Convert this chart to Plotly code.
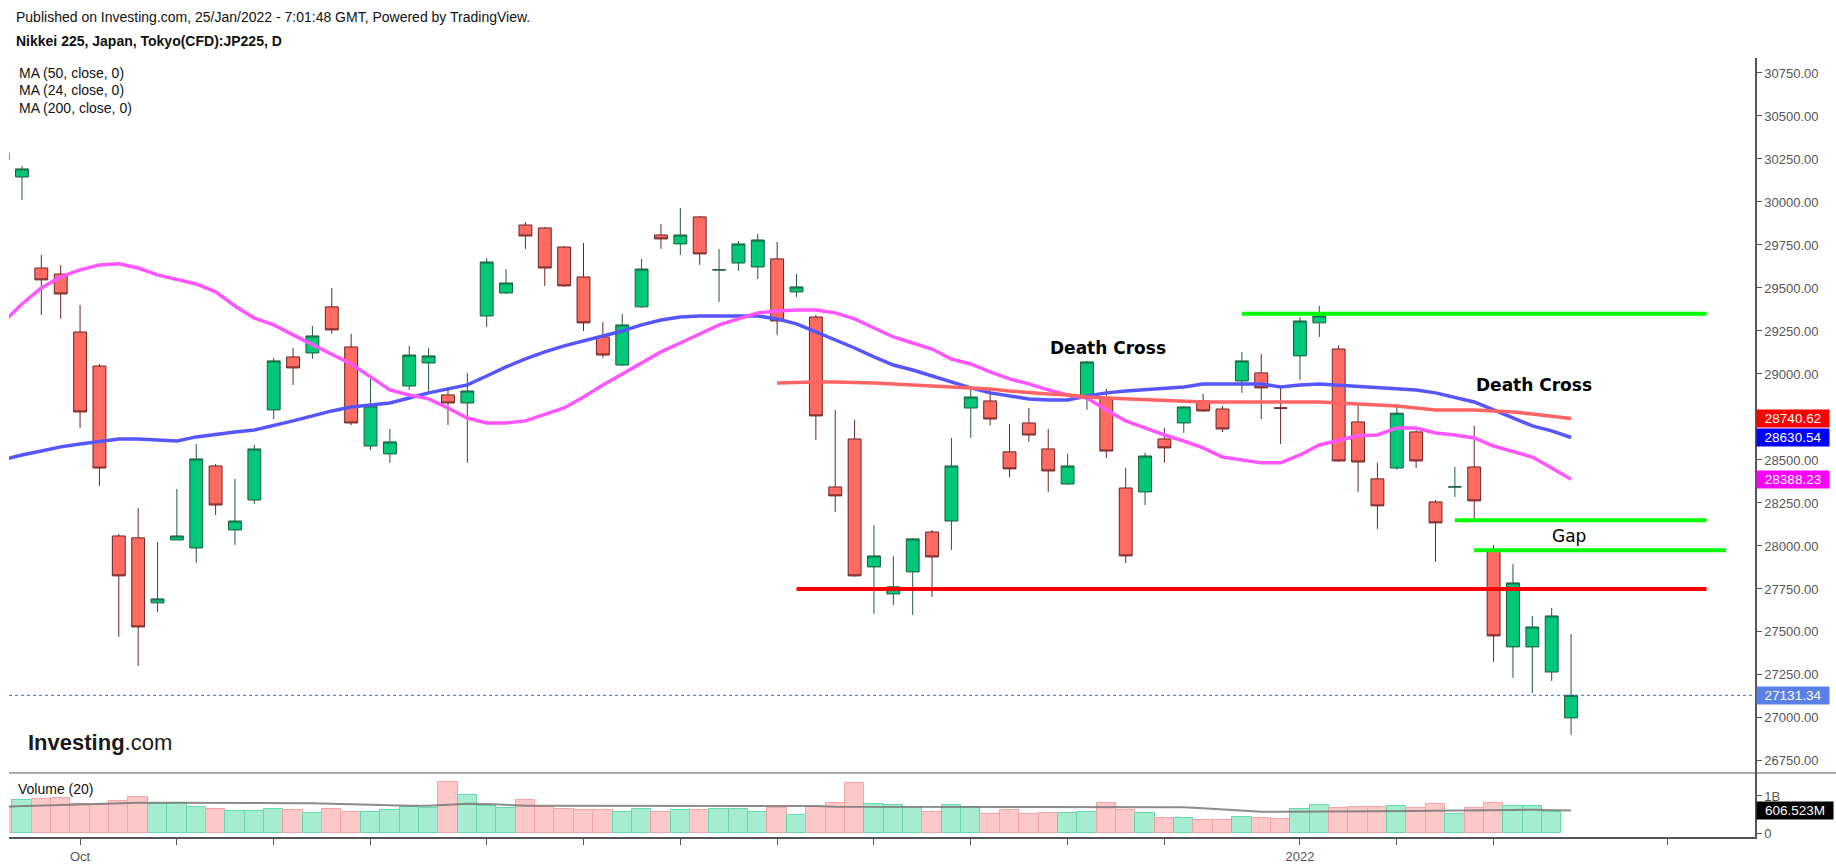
import plotly.graph_objects as go
from plotly.subplots import make_subplots

# daily bars (JP225 CFD), Sep 27 2021 .. Jan 25 2022
dates = ["2021-09-27", "2021-09-28", "2021-09-29", "2021-09-30", "2021-10-01",
         "2021-10-04", "2021-10-05", "2021-10-06", "2021-10-07", "2021-10-08",
         "2021-10-11", "2021-10-12", "2021-10-13", "2021-10-14", "2021-10-15",
         "2021-10-18", "2021-10-19", "2021-10-20", "2021-10-21", "2021-10-22",
         "2021-10-25", "2021-10-26", "2021-10-27", "2021-10-28", "2021-10-29",
         "2021-11-01", "2021-11-02", "2021-11-04", "2021-11-05", "2021-11-08",
         "2021-11-09", "2021-11-10", "2021-11-11", "2021-11-12", "2021-11-15",
         "2021-11-16", "2021-11-17", "2021-11-18", "2021-11-19", "2021-11-22",
         "2021-11-24", "2021-11-25", "2021-11-26", "2021-11-29", "2021-11-30",
         "2021-12-01", "2021-12-02", "2021-12-03", "2021-12-06", "2021-12-07",
         "2021-12-08", "2021-12-09", "2021-12-10", "2021-12-13", "2021-12-14",
         "2021-12-15", "2021-12-16", "2021-12-17", "2021-12-20", "2021-12-21",
         "2021-12-22", "2021-12-23", "2021-12-24", "2021-12-27", "2021-12-28",
         "2021-12-29", "2021-12-30", "2022-01-04", "2022-01-05", "2022-01-06",
         "2022-01-07", "2022-01-11", "2022-01-12", "2022-01-13", "2022-01-14",
         "2022-01-17", "2022-01-18", "2022-01-19", "2022-01-20", "2022-01-21",
         "2022-01-24", "2022-01-25"]
# empty trading days to the right of the last bar
future_days = ["2022-01-26", "2022-01-27", "2022-01-28", "2022-01-31", "2022-02-01",
               "2022-02-02", "2022-02-03", "2022-02-04", "2022-02-07", "2022-02-08",
               "2022-02-09"]

open_ = [30285, 30145, 29616, 29581, 29244, 29046, 28058, 28047, 27669, 28035,
         27988, 28465, 28093, 28267, 28791, 29099, 29122, 29390, 29157, 28581,
         28535, 28930, 29064, 28878, 28831, 29337, 29471, 29866, 29849, 29738,
         29564, 29215, 29052, 29390, 29808, 29756, 29913, 29604, 29645, 29622,
         29669, 29477, 29331, 28343, 28622, 27878, 27721, 27849, 28081, 28145,
         28802, 28843, 28547, 28715, 28564, 28360, 28866, 28860, 28337, 28314,
         28622, 28715, 28843, 28796, 28959, 29006, 28803, 29105, 29297, 29145,
         28721, 28390, 28453, 28663, 28256, 28342, 28459, 27971, 27413, 27413,
         27267, 27000]
high = [30300, 30209, 29692, 29634, 29401, 29058, 28070, 28221, 28023, 28331,
        28593, 28477, 28390, 28587, 29093, 29151, 29279, 29500, 29233, 28994,
        28680, 29163, 29151, 28907, 29006, 29674, 29610, 29884, 29855, 29744,
        29762, 29302, 29349, 29669, 29872, 29965, 29919, 29727, 29773, 29814,
        29767, 29581, 29343, 28791, 28733, 28122, 27942, 28047, 28093, 28628,
        28919, 28919, 28709, 28802, 28680, 28535, 29076, 28913, 28453, 28541,
        28686, 28814, 28884, 28814, 29128, 29116, 28919, 29331, 29395, 29168,
        28826, 28483, 28826, 28674, 28267, 28459, 28698, 28006, 27895, 27593,
        27640, 27488]
low = [30230, 30012, 29343, 29320, 28686, 28349, 27471, 27302, 27616, 28035,
       27901, 28180, 28006, 28244, 28738, 28936, 29087, 29233, 28703, 28558,
       28483, 28907, 28884, 28703, 28483, 29273, 29465, 29727, 29512, 29505,
       29250, 29093, 29046, 29385, 29727, 29692, 29634, 29419, 29599, 29552,
       29227, 29448, 28616, 28198, 27820, 27605, 27657, 27599, 27704, 27977,
       28628, 28700, 28401, 28605, 28314, 28355, 28791, 28512, 27901, 28238,
       28483, 28657, 28780, 28663, 28890, 28738, 28593, 28965, 29215, 28490,
       28314, 28099, 28442, 28453, 27907, 28285, 28140, 27326, 27233, 27145,
       27215, 26901]
close = [30244, 30192, 29547, 29465, 28779, 28453, 27826, 27529, 27692, 28058,
         28506, 28238, 28145, 28564, 29076, 29035, 29221, 29256, 28715, 28814,
         28605, 29110, 29105, 28831, 28901, 29651, 29529, 29802, 29616, 29512,
         29297, 29110, 29285, 29610, 29785, 29808, 29698, 29606, 29756, 29779,
         29308, 29506, 28756, 28291, 27826, 27942, 27762, 28041, 27936, 28465,
         28866, 28738, 28448, 28645, 28436, 28465, 29070, 28552, 27942, 28523,
         28570, 28808, 28785, 28680, 29076, 28919, 28801, 29308, 29337, 28494,
         28488, 28233, 28772, 28494, 28134, 28344, 28262, 27477, 27785, 27529,
         27593, 27131.34]

ma50 = [28500, 28529, 28552, 28576, 28593, 28610, 28622, 28622, 28616, 28610,
        28634, 28651, 28663, 28674, 28698, 28727, 28756, 28785, 28808, 28820,
        28831, 28860, 28890, 28913, 28936, 28988, 29041, 29087, 29128, 29163,
        29192, 29221, 29250, 29285, 29314, 29331, 29337, 29337, 29337, 29337,
        29320, 29291, 29244, 29198, 29151, 29099, 29052, 29023, 28988, 28953,
        28919, 28890, 28872, 28855, 28849, 28849, 28872, 28890, 28901, 28907,
        28913, 28924, 28942, 28942, 28942, 28942, 28924, 28936, 28942, 28936,
        28930, 28919, 28913, 28907, 28890, 28866, 28837, 28791, 28744, 28698,
        28669, 28630.54]
ma24 = [29297, 29407, 29500, 29564, 29605, 29634, 29640, 29616, 29576, 29552,
        29523, 29477, 29395, 29325, 29285, 29227, 29169, 29116, 29058, 28983,
        28907, 28878, 28855, 28802, 28744, 28715, 28715, 28727, 28762, 28802,
        28866, 28936, 29000, 29064, 29128, 29180, 29233, 29285, 29320, 29355,
        29366, 29372, 29372, 29355, 29320, 29267, 29215, 29180, 29145, 29087,
        29058, 29012, 28971, 28942, 28907, 28878, 28860, 28791, 28727, 28686,
        28645, 28610, 28570, 28517, 28500, 28483, 28483, 28529, 28587, 28616,
        28640, 28645, 28686, 28686, 28657, 28645, 28628, 28581, 28547, 28517,
        28453, 28388.23]
ma200_start = "2021-11-24"
ma200 = [28948, 28953, 28953, 28953, 28953, 28948, 28942, 28936, 28930, 28924,
         28919, 28913, 28901, 28890, 28884, 28878, 28866, 28860, 28855, 28849,
         28843, 28837, 28837, 28837, 28837, 28837, 28837, 28837, 28837, 28831,
         28826, 28820, 28814, 28802, 28791, 28791, 28791, 28785, 28779, 28767,
         28756, 28740.62]

# volume in millions (last bar has none yet) and its 20-day average
volume_m = [712, 892, 910, 946, 784, 757, 856, 982, 784, 820,
            712, 640, 604, 604, 640, 613, 532, 640, 577, 568,
            613, 712, 667, 1387, 1018, 739, 667, 883, 712, 640,
            613, 613, 568, 640, 577, 613, 613, 640, 640, 568,
            667, 477, 712, 811, 1351, 784, 770, 694, 577, 748,
            694, 514, 622, 514, 541, 541, 577, 820, 622, 541,
            414, 396, 351, 351, 441, 414, 378, 640, 757, 676,
            712, 712, 721, 676, 784, 514, 676, 811, 721, 721,
            577, None]
vol_ma_m = [712, 730, 739, 757, 775, 802, 811, 820, 820, 820,
            820, 820, 820, 820, 820, 811, 802, 793, 775, 757,
            739, 739, 739, 757, 793, 784, 757, 739, 739, 739,
            739, 739, 739, 739, 739, 739, 739, 739, 739, 739,
            739, 739, 730, 712, 712, 712, 712, 712, 712, 712,
            712, 712, 712, 712, 712, 712, 712, 712, 712, 712,
            712, 694, 667, 631, 595, 577, 577, 577, 577, 577,
            577, 577, 586, 595, 604, 604, 604, 613, 622, 631,
            622, 606.523]

# drawn levels: price, first day, last day, colour
levels = [27750, 29350, 28150, 27975]
level_start = ["2021-11-25", "2021-12-28", "2022-01-17", "2022-01-18"]
level_end = ["2022-02-03", "2022-02-03", "2022-02-03", "2022-02-04"]
level_color = ["#ff0000", "#00ff00", "#00ff00", "#00ff00"]

tick_days = ["2021-10-01", "2021-10-08", "2021-10-15", "2021-10-22", "2021-11-01",
             "2021-11-09", "2021-11-16", "2021-11-24", "2021-12-01", "2021-12-08",
             "2021-12-15", "2021-12-22", "2022-01-04", "2022-01-12", "2022-01-19",
             "2022-02-01"]
tick_names = {"2021-10-01": "Oct", "2022-01-04": "2022"}

price_ticks = list(range(26750, 30751, 250))

#bar positions on the x axis
all_days = dates + future_days
pos = {d: i for i, d in enumerate(all_days)}
x = [pos[d] for d in dates]
x200 = x[pos[ma200_start]:]

up = [c >= o for o, c in zip(open_, close)]
vol = [v * 1e6 if v is not None else None for v in volume_m]
vol_ma = [v * 1e6 for v in vol_ma_m]

fig = make_subplots(rows=2, cols=1, shared_xaxes=True, vertical_spacing=0,
                    row_heights=[0.9178, 0.0822])

fig.add_trace(go.Candlestick(
    x=x, open=open_, high=high, low=low, close=close,
    increasing=dict(line=dict(color="#1f5c3e", width=1), fillcolor="#00c878"),
    decreasing=dict(line=dict(color="#6b2424", width=1), fillcolor="#ff6a61"),
    whiskerwidth=0, hoverinfo="skip", showlegend=False), row=1, col=1)

# moving averages
fig.add_trace(go.Scatter(x=x, y=ma50, mode="lines", line=dict(color="#5656ff", width=3.5),
                         hoverinfo="skip", showlegend=False), row=1, col=1)
fig.add_trace(go.Scatter(x=x, y=ma24, mode="lines", line=dict(color="#ff55ff", width=3.5),
                         hoverinfo="skip", showlegend=False), row=1, col=1)
fig.add_trace(go.Scatter(x=x200, y=ma200, mode="lines", line=dict(color="#ff6464", width=3.5),
                         hoverinfo="skip", showlegend=False), row=1, col=1)

# support / resistance lines
for lv, s, e, c in zip(levels, level_start, level_end, level_color):
    fig.add_trace(go.Scatter(x=[pos[s], pos[e]], y=[lv, lv], mode="lines",
                             line=dict(color=c, width=4), hoverinfo="skip",
                             showlegend=False), row=1, col=1)

# volume
fig.add_trace(go.Bar(
    x=x, y=vol,
    marker=dict(color=["#a6ecd0" if u else "#fdc8c8" for u in up],
                line=dict(color=["#62d9a8" if u else "#f6a3a3" for u in up], width=1)),
    hoverinfo="skip", showlegend=False), row=2, col=1)
fig.add_trace(go.Scatter(x=x, y=vol_ma, mode="lines",
                         line=dict(color="rgba(120,120,120,0.85)", width=2),
                         hoverinfo="skip", showlegend=False), row=2, col=1)

axis_font = dict(family="Liberation Sans, Arial", size=13, color="#555555")

fig.update_xaxes(range=[0.33, 90.5], showgrid=False, zeroline=False,
                 rangeslider_visible=False)
fig.update_xaxes(showticklabels=False, ticks="", row=1, col=1)
fig.update_xaxes(tickvals=[pos[d] for d in tick_days],
                 ticktext=[tick_names.get(d, "") for d in tick_days],
                 ticks="outside", ticklen=6, tickcolor="#555555",
                 showline=True, linecolor="#555555", linewidth=2,
                 tickfont=axis_font, row=2, col=1)

fig.update_yaxes(side="right", range=[26680, 30837], tickvals=price_ticks,
                 tickformat=".2f", showgrid=False, zeroline=False,
                 showline=True, linecolor="#555555", linewidth=1.5,
                 ticks="outside", ticklen=5, tickcolor="#555555",
                 tickfont=axis_font, row=1, col=1)
fig.update_yaxes(side="right", range=[-0.108e9, 1.622e9], tickvals=[0, 1e9],
                 ticktext=["0", "1B"], showgrid=False, zeroline=False,
                 showline=True, linecolor="#555555", linewidth=1.5,
                 ticks="outside", ticklen=5, tickcolor="#555555",
                 tickfont=axis_font, row=2, col=1)

# last price dotted line and pane separator
fig.add_shape(type="line", xref="paper", yref="y", x0=0, x1=1, y0=close[-1], y1=close[-1],
              line=dict(color="#3f66e0", width=1, dash="dot"))
fig.add_shape(type="line", xref="paper", yref="paper", x0=0, x1=1.047, y0=0.0822, y1=0.0822,
              line=dict(color="#555555", width=1))

# value tags on the right axis
tags = [(ma200[-1], "#ff0000", "y"), (ma50[-1], "#0000ff", "y"),
        (ma24[-1], "#ff00ff", "y"), (close[-1], "#5a80e8", "y")]
for v, c, yr in tags:
    fig.add_annotation(x=1, xref="paper", y=v, yref=yr, text=f"{v:.2f}",
                       xanchor="left", yanchor="middle", xshift=1, showarrow=False,
                       bgcolor=c, width=70, align="center", borderpad=1,
                       font=dict(family="Liberation Sans, Arial", size=13.5, color="white"))
fig.add_annotation(x=1, xref="paper", y=vol_ma[-1], yref="y2",
                   text=f"{vol_ma_m[-1]:.3f}M", xanchor="left", yanchor="middle",
                   xshift=1, showarrow=False, bgcolor="black", width=74, align="center",
                   borderpad=1, font=dict(family="Liberation Sans, Arial", size=13.5, color="white"))

txt = dict(family="Liberation Sans, Arial", size=14, color="#111111")
fig.add_annotation(x=0.0029, y=1.0526, xref="paper", yref="paper", showarrow=False,
                   xanchor="left", yanchor="middle", font=txt,
                   text="Published on Investing.com, 25/Jan/2022 - 7:01:48 GMT, Powered by TradingView.")
fig.add_annotation(x=0.0029, y=1.0218, xref="paper", yref="paper", showarrow=False,
                   xanchor="left", yanchor="middle", font=txt,
                   text="<b>Nikkei 225, Japan, Tokyo(CFD):JP225, D</b>")
for yy, t in zip([0.9807, 0.9583, 0.9358],
                 ["MA (50, close, 0)", "MA (24, close, 0)", "MA (200, close, 0)"]):
    fig.add_annotation(x=0.0046, y=yy, xref="paper", yref="paper", showarrow=False,
                       xanchor="left", yanchor="middle", font=txt, text=t)
fig.add_annotation(x=0.004, y=0.0616, xref="paper", yref="paper", showarrow=False,
                   xanchor="left", yanchor="middle", font=txt, text="Volume (20)")
fig.add_annotation(x=0.0097, y=0.1207, xref="paper", yref="paper", showarrow=False,
                   xanchor="left", yanchor="middle",
                   font=dict(family="Liberation Sans, Arial", size=22, color="#1a1a1a"),
                   text="<b>Investing</b>.com")

# chart notes
note = dict(family="DejaVu Sans", size=17, color="black")
fig.add_annotation(x=57.1, y=29151, xref="x", yref="y", showarrow=False,
                   font=note, text="<b>Death Cross</b>")
fig.add_annotation(x=79.1, y=28936, xref="x", yref="y", showarrow=False,
                   font=note, text="<b>Death Cross</b>")
fig.add_annotation(x=80.9, y=28055, xref="x", yref="y", showarrow=False,
                   font=note, text="Gap")

fig.update_layout(
    width=1836, height=866,
    margin=dict(l=9, r=81, t=58, b=29, autoexpand=False),
    paper_bgcolor="white", plot_bgcolor="white",
    bargap=0, boxgap=0.05,
    font=dict(family="Liberation Sans, Arial"),
    showlegend=False,
)

# drop the page's default body margin so the figure fills the window exactly
fig.write_html("out.html", config={"displayModeBar": False},
               post_script="document.body.style.margin = '0';")
